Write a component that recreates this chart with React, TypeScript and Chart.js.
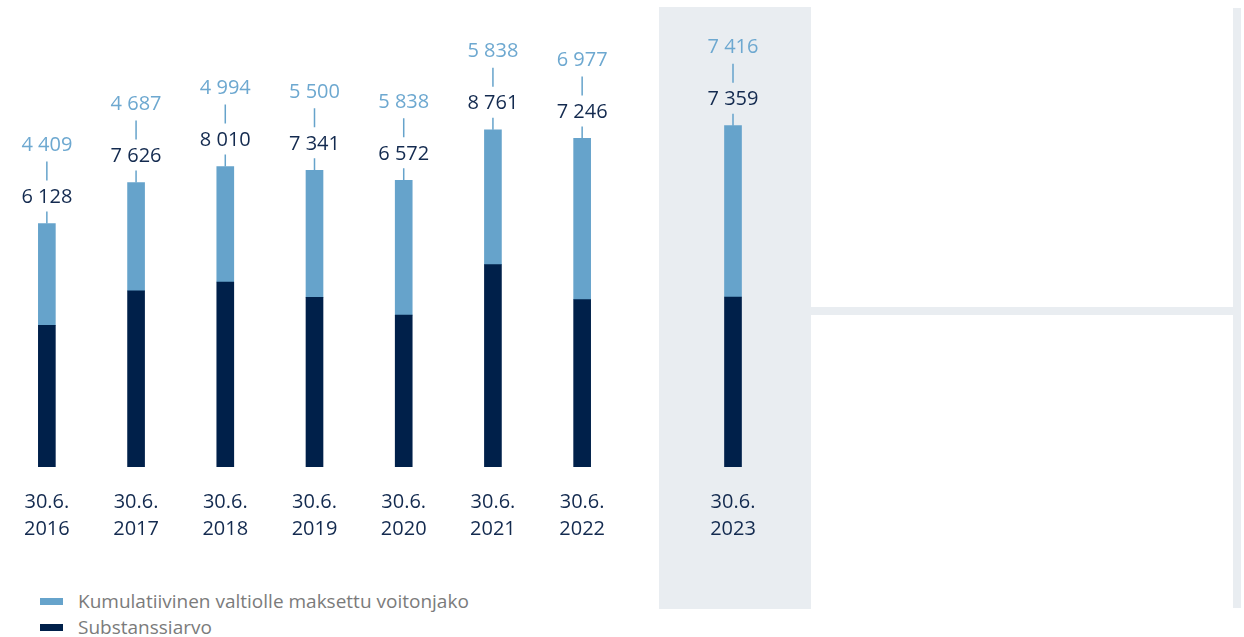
import { useEffect, useRef } from 'react';
import { Chart, registerables } from 'chart.js';

Chart.register(...registerables);

const dateLabel = '30.6.';
const years = ['2016', '2017', '2018', '2019', '2020', '2021', '2022', '2023'];
const substanssiarvo = [6128, 7626, 8010, 7341, 6572, 8761, 7246, 7359];
const voitonjako = [4409, 4687, 4994, 5500, 5838, 5838, 6977, 7416];
const seriesNames = ['Kumulatiivinen valtiolle maksettu voitonjako', 'Substanssiarvo'];

const LIGHT = '#66a3cb';
const DARK = '#00204a';
const LIGHT_TEXT = '#6da8d0';
const DARK_TEXT = '#132a4f';
const PANEL = '#e9edf1';
const FONT = "'Open Sans', sans-serif";

const fmt = (v: number) => String(v).replace(/\B(?=(\d{3})+(?!\d))/g, ' ');

const labelPlugin = {
  id: 'valueLabels',
  afterDatasetsDraw(chart: any) {
    const ctx = chart.ctx as CanvasRenderingContext2D;
    const darkMeta = chart.getDatasetMeta(1);
    const lightMeta = chart.getDatasetMeta(0);
    const lightData = chart.data.datasets[0].data as number[];
    const darkData = chart.data.datasets[1].data as number[];
    ctx.save();
    ctx.font = `20px ${FONT}`;
    ctx.textAlign = 'center';
    ctx.textBaseline = 'middle';
    lightMeta.data.forEach((el: any, i: number) => {
      const x = el.x;
      const top = Math.min(el.y, darkMeta.data[i].y);
      ctx.strokeStyle = LIGHT;
      ctx.lineWidth = 1.5;
      ctx.beginPath();
      ctx.moveTo(x, top);
      ctx.lineTo(x, top - 12);
      ctx.moveTo(x, top - 43);
      ctx.lineTo(x, top - 62);
      ctx.stroke();
      ctx.fillStyle = DARK_TEXT;
      ctx.fillText(fmt(darkData[i]), x, top - 26);
      ctx.fillStyle = LIGHT_TEXT;
      ctx.fillText(fmt(lightData[i]), x, top - 78);
    });
    ctx.restore();
  },
};

function BarPanel({ from, to, left, width }: { from: number; to: number; left: number; width: number }) {
  const ref = useRef<HTMLCanvasElement | null>(null);
  useEffect(() => {
    if (!ref.current) return;
    const chart = new Chart(ref.current, {
      type: 'bar',
      data: {
        labels: years.slice(from, to).map((y) => [dateLabel, y]),
        datasets: [
          {
            label: seriesNames[0],
            data: voitonjako.slice(from, to),
            backgroundColor: LIGHT,
            barThickness: 17,
            order: 2,
            stack: 's',
          } as any,
          {
            label: seriesNames[1],
            data: substanssiarvo.slice(from, to),
            backgroundColor: DARK,
            barThickness: 17,
            order: 1,
            stack: 's',
          } as any,
        ],
      },
      options: {
        responsive: false,
        animation: false,
        layout: { padding: { top: 5, left: 0, right: 0, bottom: 0 } },
        plugins: { legend: { display: false }, tooltip: { enabled: false } },
        scales: {
          x: {
            stacked: true,
            grid: { display: false, drawTicks: false },
            border: { display: false },
            ticks: {
              color: DARK_TEXT,
              font: { family: FONT, size: 20, lineHeight: 1.35 },
              padding: 22,
              maxRotation: 0,
              autoSkip: false,
            },
          },
          y: { stacked: true, display: false, min: 0, max: 20000 },
        },
      },
      plugins: [labelPlugin],
    });
    return () => chart.destroy();
  }, [from, to]);
  return (
    <canvas
      ref={ref}
      width={width}
      height={565}
      style={{ position: 'absolute', left, top: 0, width, height: 565, display: 'block', zIndex: 2 }}
    />
  );
}

export default function App() {
  return (
    <div style={{ position: 'absolute', left: 0, top: 0, width: 1244, height: 637, background: '#fff', fontFamily: FONT }}>
      <div style={{ position: 'absolute', left: 659, top: 7, width: 152, height: 602, background: PANEL }} />
      <div style={{ position: 'absolute', left: 811, top: 307, width: 422, height: 8, background: PANEL }} />
      <div style={{ position: 'absolute', left: 1233, top: 8, width: 8, height: 600, background: PANEL }} />
      <BarPanel from={0} to={7} left={2} width={625} />
      <BarPanel from={7} to={8} left={650} width={166} />
      {[LIGHT, DARK].map((c, i) => (
        <div key={i} style={{ position: 'absolute', left: 40, top: 588 + i * 26, height: 26, display: 'flex', alignItems: 'center' }}>
          <div style={{ width: 23, height: 7, background: c, marginRight: 15 }} />
          <span style={{ color: '#7b7b7b', fontSize: 19, lineHeight: '26px', whiteSpace: 'nowrap' }}>{seriesNames[i]}</span>
        </div>
      ))}
    </div>
  );
}
